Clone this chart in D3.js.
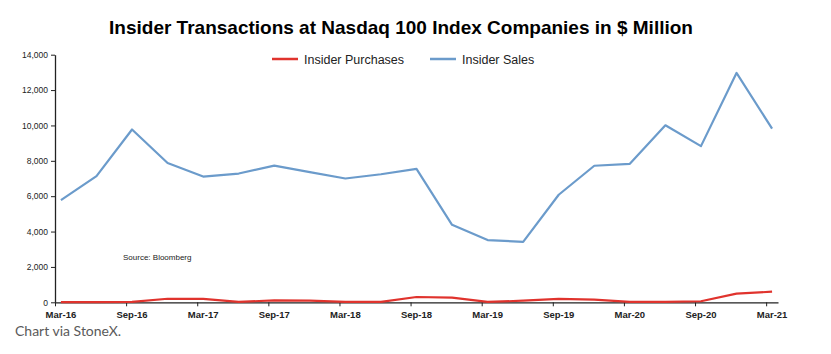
<!DOCTYPE html>
<html>
<head>
<meta charset="utf-8">
<script src="https://cdn.jsdelivr.net/npm/d3@7"></script>
<style>
  body { margin: 0; background: #fff; }
  svg text { font-family: "Liberation Sans", Arial, sans-serif; }
</style>
</head>
<body>
<svg id="chart" width="831" height="354"></svg>
<script>
// quarterly points, Mar-16 .. Mar-21
var quarters = d3.range(21);
var purchases = [10, 10, 20, 200, 190, 20, 110, 90, 20, 20, 300, 260, 20, 90, 190, 150, 20, 20, 60, 490, 600];
var sales = [5780, 7130, 9770, 7880, 7110, 7280, 7730, 7360, 7000, 7240, 7540, 4380, 3520, 3420, 6080, 7720, 7830, 10010, 8830, 12970, 9820];
var xTickLabels = ["Mar-16", "Sep-16", "Mar-17", "Sep-17", "Mar-18", "Sep-18", "Mar-19", "Sep-19", "Mar-20", "Sep-20", "Mar-21"];
var yTicks = [0, 2000, 4000, 6000, 8000, 10000, 12000, 14000];

var svg = d3.select('#chart');
var plotLeft = 55, plotRight = 778, plotTop = 54.7, plotBottom = 302.3;

// month axis: each month is a slot, points sit in the middle of their month
var x = d3.scaleLinear().domain([0, 61]).range([plotLeft, plotRight]);
var y = d3.scaleLinear().domain([0, 14000]).range([plotBottom, plotTop]);

svg.append('text')
    .attr('x', 401).attr('y', 34)
    .attr('text-anchor', 'middle')
    .style('font-size', '19px')
    .style('font-weight', 'bold')
    .text('Insider Transactions at Nasdaq 100 Index Companies in $ Million');

// y axis
var yAxis = d3.axisLeft(y).tickValues(yTicks).tickSize(4).tickSizeOuter(0).tickFormat(d3.format(','));
svg.append('g')
    .attr('transform', 'translate(' + plotLeft + ',0)')
    .call(yAxis)
    .call(function (g) {
        g.select('.domain').attr('stroke', '#222').attr('stroke-width', 1.3);
        g.selectAll('.tick line').attr('stroke', '#222');
        g.selectAll('text').style('font-size', '8.5px').attr('fill', '#222').attr('x', -7);
    });

// x axis
var xAxis = d3.axisBottom(x).tickValues(d3.range(0, 61, 6)).tickSize(4).tickSizeOuter(0).tickFormat('');
var gx = svg.append('g')
    .attr('transform', 'translate(0,' + plotBottom + ')')
    .call(xAxis);
gx.select('.domain').attr('stroke', '#222').attr('stroke-width', 1.3);
gx.selectAll('.tick line').attr('stroke', '#222');

svg.append('g').selectAll('text')
    .data(xTickLabels)
    .enter().append('text')
    .attr('x', function (d, i) { return x(i * 6 + 0.5); })
    .attr('y', 317.5)
    .attr('text-anchor', 'middle')
    .style('font-size', '9.5px')
    .style('font-weight', 'bold')
    .attr('fill', '#222')
    .text(function (d) { return d; });

var line = function (vals) {
    return d3.line()
        .x(function (d, i) { return x(i * 3 + 0.5); })
        .y(function (d) { return y(d); })(vals);
};

svg.append('path')
    .attr('d', line(sales))
    .attr('fill', 'none')
    .attr('stroke', '#6b9bcb')
    .attr('stroke-width', 2.2)
    .attr('stroke-linejoin', 'round');

svg.append('path')
    .attr('d', line(purchases))
    .attr('fill', 'none')
    .attr('stroke', '#e0332d')
    .attr('stroke-width', 2.2)
    .attr('stroke-linejoin', 'round');

// legend
var legend = [
    {name: 'Insider Purchases', color: '#e0332d', x: 272},
    {name: 'Insider Sales', color: '#6b9bcb', x: 430}
];
var lg = svg.append('g').selectAll('g').data(legend).enter().append('g')
    .attr('transform', function (d) { return 'translate(' + d.x + ',59)'; });
lg.append('line').attr('x1', 0).attr('x2', 26).attr('y1', 0).attr('y2', 0)
    .attr('stroke', function (d) { return d.color; }).attr('stroke-width', 2.5);
lg.append('text').attr('x', 32).attr('y', 4.5)
    .style('font-size', '12.5px').attr('fill', '#222')
    .text(function (d) { return d.name; });

svg.append('text')
    .attr('x', 123).attr('y', 260)
    .style('font-size', '8px').attr('fill', '#222')
    .text('Source: Bloomberg');

svg.append('text')
    .attr('x', 15).attr('y', 336)
    .style('font-family', 'Lato, sans-serif')
    .style('font-size', '14px').attr('fill', '#5a5a5a')
    .text('Chart via StoneX.');
</script>
</body>
</html>
